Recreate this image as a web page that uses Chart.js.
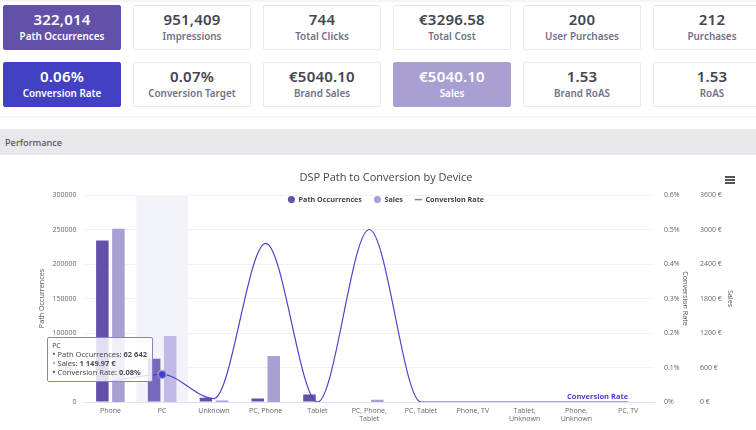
<!DOCTYPE html>
<html>
<head>
<meta charset="utf-8">
<script src="https://cdn.jsdelivr.net/npm/chart.js@4/dist/chart.umd.min.js"></script>
<style>
  html,body{margin:0;padding:0;background:#fff;overflow:hidden;width:756px;height:430px;font-family:"Noto Sans",sans-serif}
  .rule{position:absolute;left:0;width:772px;height:2px;background:#f5f5f7}
  .kpi{position:absolute;width:116px;height:43px;border:1px solid #e9e9ee;border-radius:2px;text-align:center;background:#fff;box-sizing:content-box}
  .kpi b{display:block;font-size:15px;font-weight:600;line-height:18px;margin-top:4px;color:#45454f;letter-spacing:.2px}
  .kpi span{display:block;font-size:9.9px;font-weight:600;line-height:14px;margin-top:1px;color:#71718a}
  .kpi.on b,.kpi.on span{color:#fff}
  .band{position:absolute;left:0;top:129px;width:772px;height:26px;background:#e8e8ec;font-size:9.2px;font-weight:500;line-height:28px;color:#50505a;text-indent:5px}
  #wrap{position:absolute;left:0;top:156px;width:772px;height:274px}
  #menu{position:absolute;left:725px;top:20px;width:10px}
  #menu i{display:block;height:2px;background:#555;margin-bottom:1px}
  #tip{position:absolute;width:104px;height:43px;box-sizing:content-box;background:rgba(255,255,255,.82);border:1px solid #8c7fc4;border-radius:2px;font-size:7.5px;line-height:8.8px;color:#4a4a55;padding:0;display:none}
  #tip div{padding-left:4px;white-space:nowrap}
  #tip div:first-child{font-size:6.8px;padding-top:3px;line-height:9px}
  #tip u{text-decoration:none;font-size:9px;margin-right:2px}
</style>
</head>
<body>
<div class="rule" style="top:0"></div>
<div class="rule" style="top:116px"></div>
<div id="cards"></div>
<div class="band">Performance</div>
<div id="wrap">
  <canvas id="chartPath" width="772" height="274"></canvas>
  <div id="menu"><i></i><i></i><i></i></div>
  <div id="tip"></div>
</div>
<script>
const kpiValues = ["322,014","951,409","744","€3296.58","200","212","0.06%","0.07%","€5040.10","€5040.10","1.53","1.53"];
const kpiLabels = ["Path Occurrences","Impressions","Total Clicks","Total Cost","User Purchases","Purchases","Conversion Rate","Conversion Target","Brand Sales","Sales","Brand RoAS","RoAS"];
const kpiFill = {0:"#6350a8",6:"#4340c2",9:"#a99fd2"};

const categories = ["Phone","PC","Unknown","PC, Phone","Tablet",["PC, Phone,","Tablet"],"PC, Tablet","Phone, TV",["Tablet,","Unknown"],["Phone,","Unknown"],"PC, TV"];
const pathOccurrences = [234000,62642,6000,5000,11000,0,0,0,0,0,0];
const sales = [3015,1149.97,25,800,0,40,0,0,0,0,0];
const conversionRate = [0.06,0.08,0.01,0.46,0,0.5,0,0,0,0,0];

const activeIndex = 1;

function wireCards(){
  const box = document.getElementById("cards");
  kpiValues.forEach((v,i) => {
    const d = document.createElement("div");
    d.className = "kpi" + (kpiFill[i] ? " on" : "");
    d.style.left = (3 + (i % 6) * 130) + "px";
    d.style.top = (i < 6 ? 5 : 62) + "px";
    if(kpiFill[i]){ d.style.background = kpiFill[i]; d.style.borderColor = kpiFill[i]; }
    d.innerHTML = `<b>${v}</b><span>${kpiLabels[i]}</span>`;
    box.appendChild(d);
  });
}

const spaced = n => String(n).replace(/\B(?=(\d{3})+(?!\d))/g," ");
const tipFormat = [
  v => spaced(v),
  v => { const p = v.toFixed(2).split("."); return spaced(p[0]) + "." + p[1] + " €"; },
  v => v.toFixed(2) + "%"
];

function tipDraw({tooltip}){
  const el = document.getElementById("tip");
  if(!tooltip.dataPoints || !tooltip.dataPoints.length) return;
  const rows = tooltip.dataPoints.map(p => {
    const col = p.dataset.tipColor;
    return `<div><u style="color:${col}">•</u>${p.dataset.label}: <b>${tipFormat[p.datasetIndex](p.raw)}</b></div>`;
  }).join("");
  el.innerHTML = `<div>${tooltip.title[0]}</div>` + rows;
  el.style.display = "block";
  el.style.left = (tooltip.caretX - 115) + "px";
  el.style.top = (tooltip.caretY - 37) + "px";
}

Chart.Tooltip.positioners.onLine = function(items){
  const last = items[items.length - 1];
  return last ? {x:last.element.x, y:last.element.y} : false;
};

const shellPlugin = {
  id:"shell",
  afterInit(chart){
    // legend floats over the top of the plot, so it takes no layout room
    const lg = chart.legend, fit = lg.fit, draw = lg.draw;
    lg.fit = function(){ fit.call(this); this.height = 0; };
    lg.draw = function(){
      const t = this.top, b = this.bottom;
      this.top = t - 11;
      this.bottom = t + 20;
      draw.call(this);
      this.top = t;
      this.bottom = b;
    };
  },
  beforeDatasetsDraw(chart){
    const x = chart.scales.x, a = chart.chartArea, w = x.getPixelForValue(1) - x.getPixelForValue(0);
    const c = chart.ctx;
    c.save();
    c.fillStyle = "#f2f3f9";
    c.fillRect(x.getPixelForValue(activeIndex) - w/2, a.top, w, a.bottom - a.top);
    c.restore();
  },
  afterDatasetsDraw(chart){
    const c = chart.ctx;
    c.save();
    c.font = "bold 7.5px 'Open Sans'";
    c.fillStyle = "#4a42c8";
    c.textAlign = "right";
    c.textBaseline = "bottom";
    c.fillText("Conversion Rate", chart.scales.x.getPixelForValue(categories.length - 1), chart.scales.yRate.getPixelForValue(0) - 1);
    c.restore();
  }
};

function buildChart(){
  const ctx = document.getElementById("chartPath");
  const tickFont = {family:"'Open Sans'", size:7, lineHeight:1.15};
  const titleFont = {family:"'Open Sans'", size:7.2};
  const chart = new Chart(ctx, {
    type:"bar",
    plugins:[shellPlugin],
    data:{
      labels:categories,
      datasets:[
        {label:"Path Occurrences", data:pathOccurrences, yAxisID:"y", order:2, tipColor:"#6350a8",
         backgroundColor:c => c.dataIndex === activeIndex ? "#7a68bf" : "#6351a9",
         categoryPercentage:0.62, barPercentage:0.78},
        {label:"Sales", data:sales, yAxisID:"ySales", order:2, tipColor:"#a99fd2",
         backgroundColor:c => c.dataIndex === activeIndex ? "#c3b9e8" : "#a99fd2",
         categoryPercentage:0.62, barPercentage:0.78},
        {label:"Conversion Rate", type:"line", data:conversionRate, yAxisID:"yRate", order:1, tipColor:"#4340c2",
         borderColor:"#4a42c8", backgroundColor:"#4340c2", borderWidth:1.2,
         cubicInterpolationMode:"monotone", fill:false,
         pointRadius:c => c.dataIndex === activeIndex ? 4 : 0,
         pointBorderColor:"rgba(170,165,230,.8)", pointBorderWidth:1.5}
      ]
    },
    options:{
      responsive:false,
      animation:false,
      events:[],
      layout:{padding:0},
      plugins:{
        title:{display:true, text:"DSP Path to Conversion by Device", color:"#444",
          font:{family:"'Open Sans'", size:11, weight:"normal"}, padding:{top:15,bottom:10.8}},
        legend:{position:"top", labels:{
          color:"#444", font:{family:"'Open Sans'", size:7.2, weight:"bold"},
          usePointStyle:true, boxWidth:7, boxHeight:5, padding:12,
          sort:(a,b) => a.datasetIndex - b.datasetIndex,
          generateLabels(chart){
            const items = Chart.defaults.plugins.legend.labels.generateLabels(chart);
            items.forEach(it => {
              it.pointStyle = it.datasetIndex === 2 ? "line" : "circle";
              if(it.datasetIndex === 2){ it.strokeStyle = "#7c78d8"; it.lineWidth = 1.5; }
              else it.lineWidth = 0;
            });
            return items;
          }
        }},
        tooltip:{enabled:false, mode:"index", position:"onLine", external:tipDraw}
      },
      scales:{
        x:{
          grid:{display:false, drawTicks:false},
          border:{color:"#dfe1f3"},
          ticks:{color:"#666", font:tickFont, autoSkip:false, maxRotation:0, minRotation:0, padding:5},
          afterFit(s){ s.height = 28; }
        },
        y:{
          position:"left", min:0, max:300000,
          grid:{color:"#f1f1f4", drawTicks:false}, border:{display:false},
          ticks:{color:"#666", font:tickFont, stepSize:50000, padding:8, callback:v => String(v)},
          title:{display:true, text:"Path Occurrences", color:"#555", font:titleFont, padding:{top:38,bottom:0}},
          afterFit(s){ s.width = 84.5; }
        },
        yRate:{
          position:"right", min:0, max:0.6,
          grid:{display:false, drawTicks:false}, border:{display:false},
          ticks:{color:"#666", font:tickFont, stepSize:0.1, padding:10, callback:v => +v.toFixed(1) + "%"},
          title:{display:true, text:"Conversion Rate", color:"#555", font:titleFont, padding:{top:7,bottom:0}},
          afterFit(s){ s.width = 42; }
        },
        ySales:{
          position:"right", min:0, max:3600,
          grid:{display:false, drawTicks:false}, border:{display:false},
          ticks:{color:"#666", font:tickFont, stepSize:600, padding:4, callback:v => v + " €"},
          title:{display:true, text:"Sales", color:"#555", font:titleFont, padding:{top:38,bottom:0}},
          afterFit(s){ s.width = 76; }
        }
      }
    }
  });
  chart.update();
  const active = chart.data.datasets.map((d,i) => ({datasetIndex:i, index:activeIndex}));
  chart.tooltip.setActiveElements(active, {x:0, y:0});
}

wireCards();
buildChart();
</script>
</body>
</html>
